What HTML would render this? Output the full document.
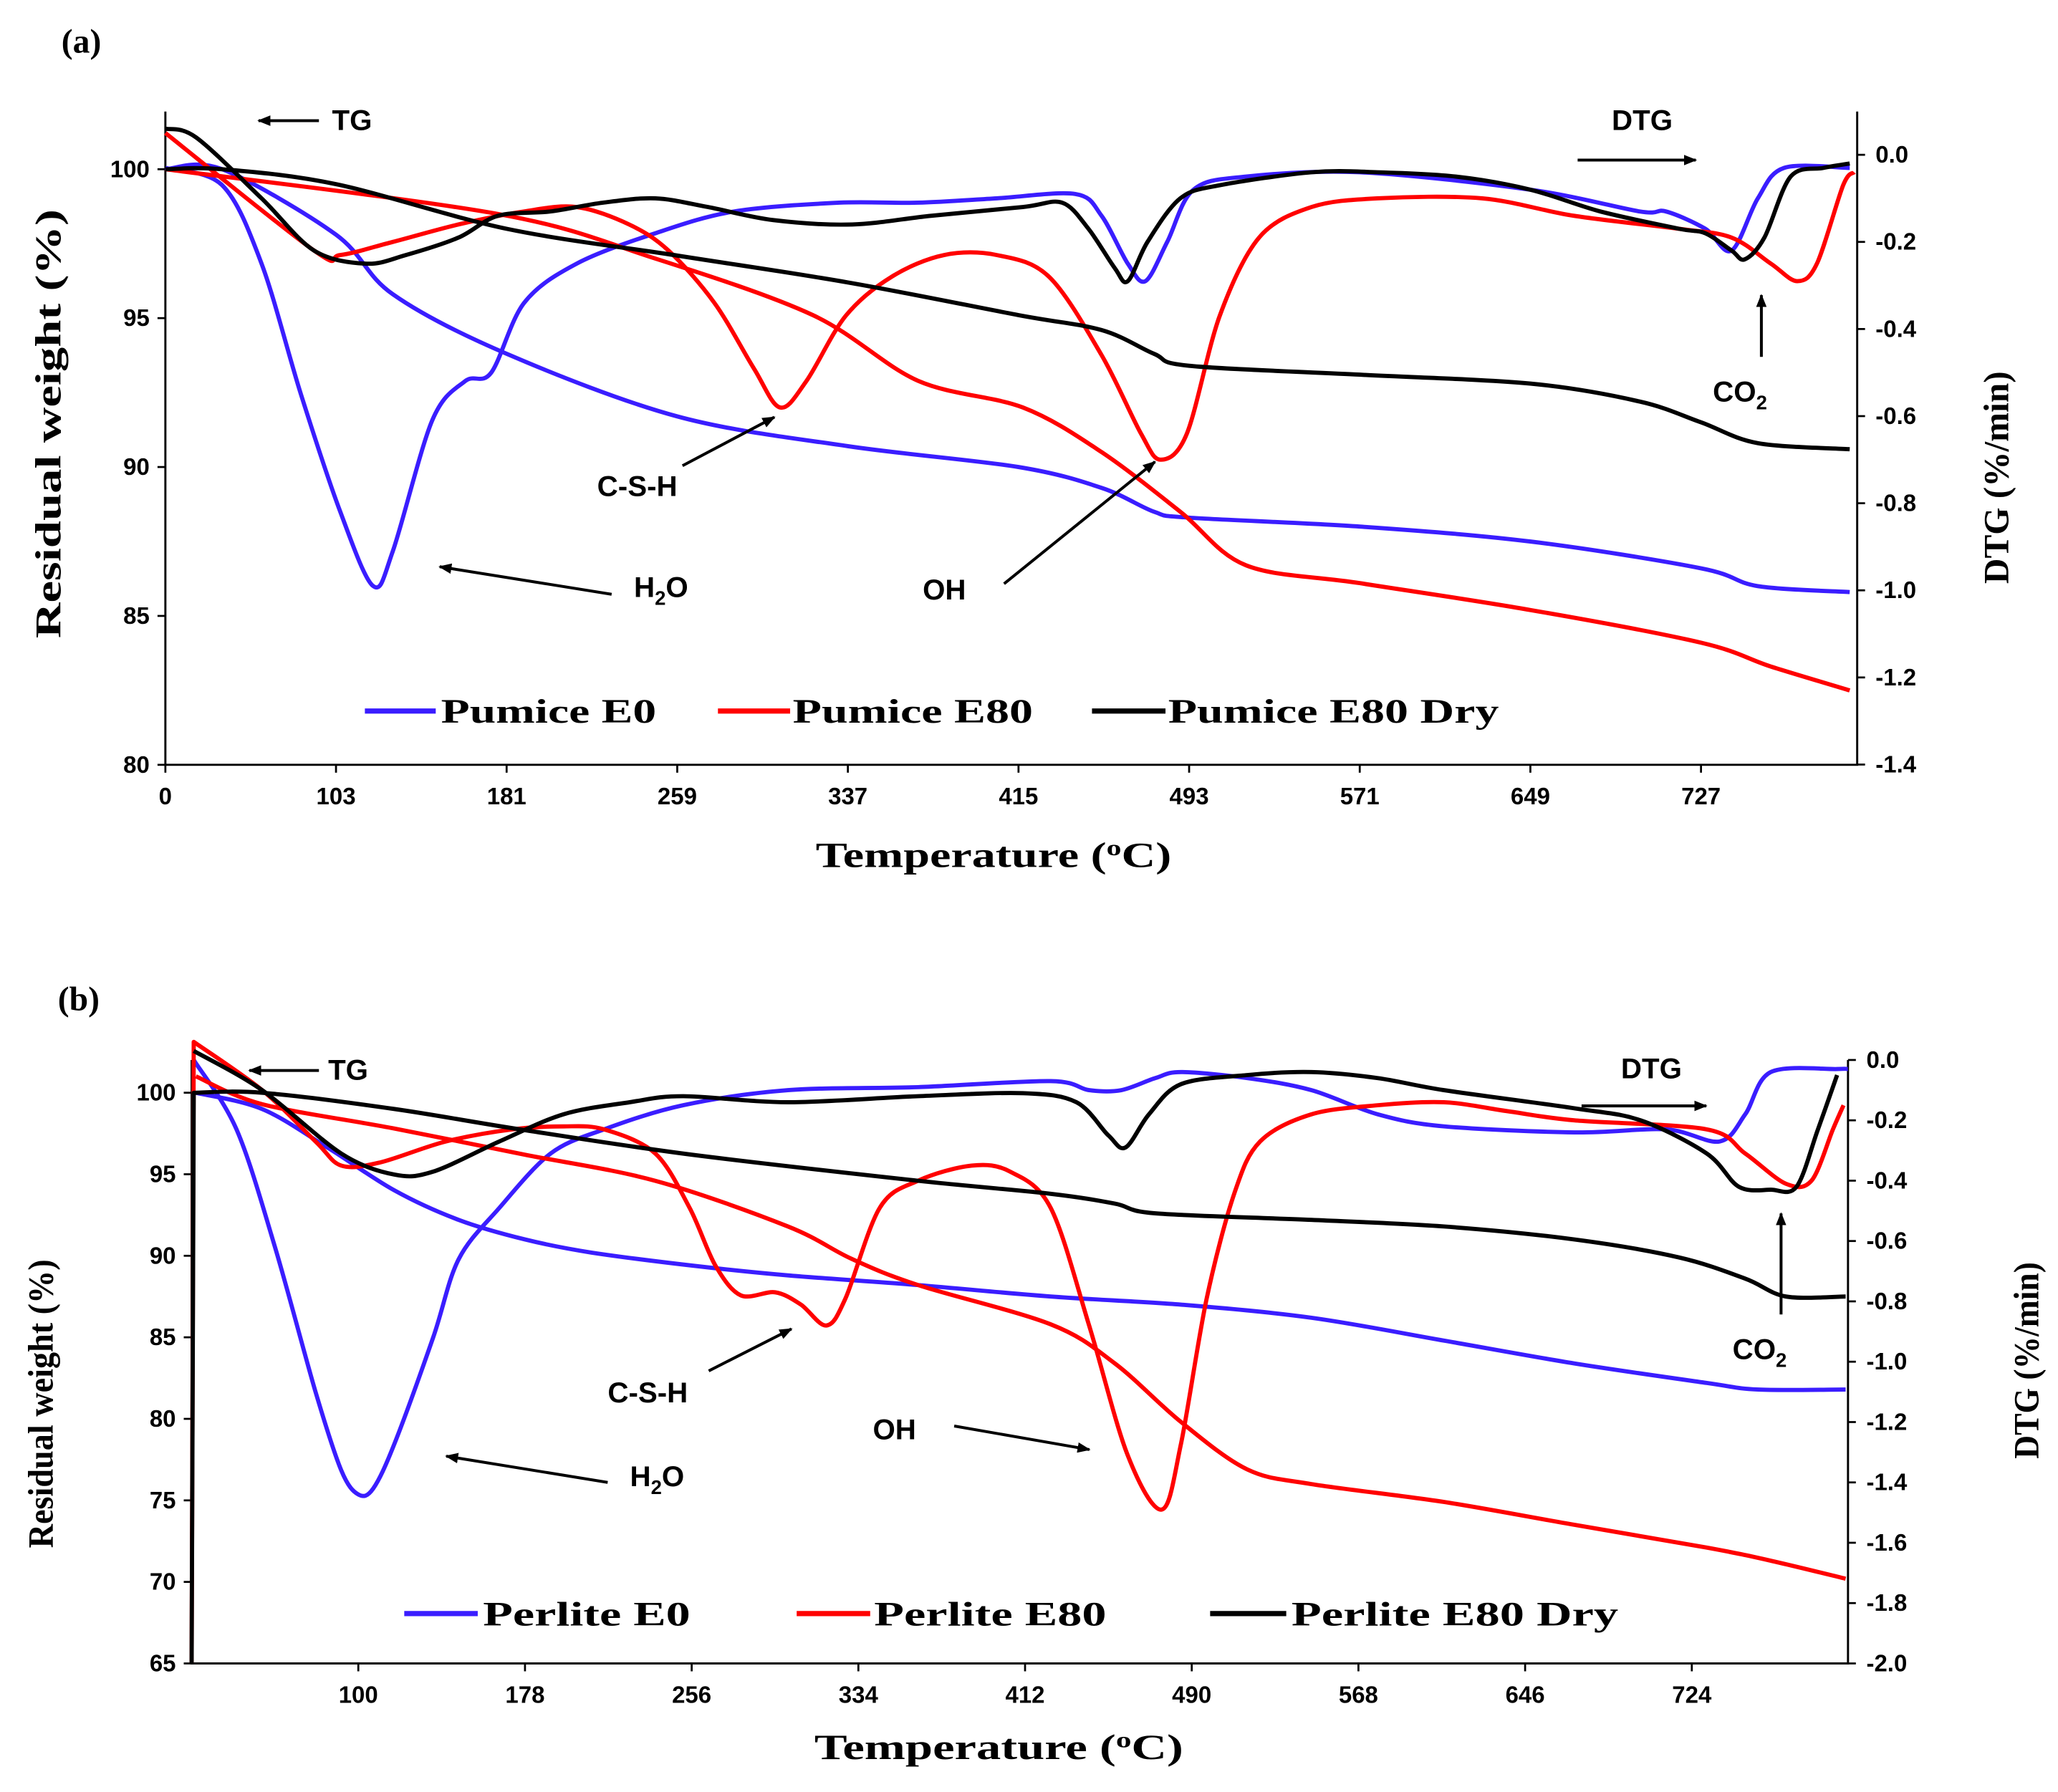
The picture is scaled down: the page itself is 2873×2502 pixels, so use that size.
<!DOCTYPE html>
<html><head><meta charset="utf-8"><style>
html,body{margin:0;padding:0;background:#fff;}
svg{display:block;}
.t{font-family:"Liberation Sans",sans-serif;font-weight:bold;font-size:18px;fill:#000;}
.s{font-family:"Liberation Serif",serif;font-weight:bold;fill:#000;}
.an{font-family:"Liberation Sans",sans-serif;font-weight:bold;font-size:22px;fill:#000;}
</style></head><body>
<svg id="chart" width="2873" height="2502" viewBox="0 0 1568 1366" preserveAspectRatio="none" xmlns="http://www.w3.org/2000/svg">
<defs><marker id="ah" markerWidth="10" markerHeight="8" refX="9" refY="4" orient="auto" markerUnits="userSpaceOnUse"><path d="M0,0 L10,4 L0,8 z" fill="#000"/></marker></defs>
<g id="root"></g>
</svg>
<script>
// ===== Panel (a) data =====
const aXTickLabels = ["0","103","181","259","337","415","493","571","649","727"];
const aXTickValues = [25,103,181,259,337,415,493,571,649,727];
const aLeftTicks = [80,85,90,95,100];
const aRightTicks = [0.0,-0.2,-0.4,-0.6,-0.8,-1.0,-1.2,-1.4];
const aBlueTG_T = [25,51,103,129,181,259,337,415,453,477,493,571,649,727,753,795];
const aBlueTG_V = [100,100,97.8,95.8,93.8,91.7,90.7,90,89.3,88.5,88.3,88,87.5,86.6,86,85.8];
const aBlueDTG_T = [25,51,69,87,105,120,129,147,162,174,189,213,249,285,333,369,405,441,453,465,473,483,495,519,571,649,699,711,729,741,753,765,795];
const aBlueDTG_V = [-0.03,-0.07,-0.25,-0.55,-0.82,-0.99,-0.91,-0.61,-0.52,-0.50,-0.34,-0.25,-0.18,-0.13,-0.11,-0.11,-0.10,-0.09,-0.14,-0.25,-0.29,-0.20,-0.08,-0.05,-0.04,-0.08,-0.13,-0.13,-0.17,-0.22,-0.10,-0.03,-0.03];
const aRedTG_T = [25,177,249,321,369,417,453,489,519,571,649,727,759,795];
const aRedTG_V = [100,98.5,97,95.1,92.9,92,90.5,88.5,86.7,86.1,85.2,84.1,83.3,82.5];
const aRedDTG_T = [25,93,105,129,159,189,213,237,255,276,294,306,318,336,357,381,405,429,453,471,480,492,507,525,549,579,627,669,717,741,759,771,780,792,797];
const aRedDTG_V = [0.05,-0.22,-0.23,-0.20,-0.16,-0.13,-0.12,-0.16,-0.22,-0.34,-0.49,-0.58,-0.52,-0.37,-0.28,-0.23,-0.23,-0.28,-0.46,-0.64,-0.70,-0.64,-0.37,-0.19,-0.12,-0.10,-0.10,-0.14,-0.17,-0.19,-0.25,-0.29,-0.25,-0.07,-0.04];
const aBlackTG_T = [25,51,103,181,259,337,415,453,477,493,571,649,699,727,753,795];
const aBlackTG_V = [100,100,99.5,98,97.1,96.2,95.1,94.6,93.8,93.4,93.1,92.8,92.2,91.5,90.8,90.6];
const aBlackDTG_T = [25,39,69,93,117,135,159,177,201,225,249,273,303,339,375,417,435,447,459,465,474,489,507,549,579,615,649,681,717,729,741,747,756,768,783,795];
const aBlackDTG_V = [0.06,0.04,-0.10,-0.22,-0.25,-0.23,-0.19,-0.14,-0.13,-0.11,-0.10,-0.12,-0.15,-0.16,-0.14,-0.12,-0.11,-0.17,-0.26,-0.29,-0.20,-0.10,-0.07,-0.04,-0.04,-0.05,-0.08,-0.13,-0.17,-0.18,-0.22,-0.24,-0.19,-0.05,-0.03,-0.02];

// ===== Panel (b) data =====
const bXTickLabels = ["100","178","256","334","412","490","568","646","724"];
const bXTickValues = [100,178,256,334,412,490,568,646,724];
const bLeftTicks = [65,70,75,80,85,90,95,100];
const bRightTicks = [0.0,-0.2,-0.4,-0.6,-0.8,-1.0,-1.2,-1.4,-1.6,-1.8,-2.0];
const bBlueTG_T = [24,55,86,117,147,178,209,256,301,362,424,485,546,608,669,731,755,796];
const bBlueTG_V = [100,99.0,96.6,94,92.2,91,90.2,89.4,88.8,88.2,87.5,87,86.2,84.8,83.4,82.2,81.8,81.8];
const bBlueDTG_T = [23,43,61,80,92,100,107,117,135,147,166,190,215,252,301,362,424,442,457,473,485,516,546,577,608,669,712,737,749,761,792,797];
const bBlueDTG_V = [0.0,-0.23,-0.62,-1.10,-1.36,-1.44,-1.42,-1.27,-0.92,-0.66,-0.49,-0.31,-0.23,-0.15,-0.10,-0.09,-0.07,-0.10,-0.10,-0.06,-0.04,-0.06,-0.10,-0.18,-0.22,-0.24,-0.23,-0.27,-0.18,-0.04,-0.03,-0.03];
const bRedTG_T = [24,55,117,178,239,301,331,362,424,454,485,516,546,608,669,731,761,796];
const bRedTG_V = [101,99.3,97.8,96.2,94.6,91.8,89.8,88.2,85.8,83.4,79.8,76.9,76,74.9,73.5,72.1,71.3,70.2];
const bRedDTG_T = [22,23,55,80,92,110,141,172,196,215,239,255,267,279,295,307,319,328,344,362,387,405,424,442,460,476,485,497,510,522,546,577,608,638,669,731,749,768,780,790,795];
const bRedDTG_V = [-2.0,0.06,-0.10,-0.27,-0.35,-0.34,-0.27,-0.23,-0.22,-0.23,-0.31,-0.49,-0.68,-0.78,-0.77,-0.81,-0.88,-0.79,-0.49,-0.40,-0.35,-0.37,-0.49,-0.88,-1.31,-1.49,-1.27,-0.79,-0.44,-0.27,-0.18,-0.15,-0.14,-0.17,-0.20,-0.23,-0.31,-0.41,-0.40,-0.23,-0.15];
const bBlackTG_T = [22,23,55,117,178,256,362,424,454,473,546,608,669,718,749,768,796];
const bBlackTG_V = [65,100,100,99.0,97.7,96.2,94.6,93.8,93.2,92.6,92.2,91.8,91,89.9,88.6,87.5,87.5];
const bBlackDTG_T = [23,55,92,117,135,166,196,227,252,301,362,411,436,451,459,470,485,516,546,577,608,669,700,731,746,761,773,783,792];
const bBlackDTG_V = [0.03,-0.10,-0.31,-0.38,-0.37,-0.27,-0.18,-0.14,-0.12,-0.14,-0.12,-0.11,-0.14,-0.25,-0.29,-0.18,-0.08,-0.05,-0.04,-0.06,-0.10,-0.16,-0.20,-0.31,-0.42,-0.43,-0.42,-0.23,-0.05];

const NS="http://www.w3.org/2000/svg";
const root=document.getElementById('root');
function mk(tag,attrs,parent){const e=document.createElementNS(NS,tag);for(const k in attrs)e.setAttribute(k,attrs[k]);(parent||root).appendChild(e);return e;}
function txt(x,y,s,cls,extra,parent){const e=mk('text',Object.assign({x:x,y:y,class:cls},extra||{}),parent);e.innerHTML=s;return e;}

function smooth(pts){
  let d='M'+pts[0][0].toFixed(1)+','+pts[0][1].toFixed(1);
  for(let i=0;i<pts.length-1;i++){
    let p0=pts[Math.max(0,i-1)];const p1=pts[i],p2=pts[i+1];let p3=pts[Math.min(pts.length-1,i+2)];
    if(Math.abs(p2[0]-p1[0])<3){d+=' L'+p2[0].toFixed(1)+','+p2[1].toFixed(1);continue;}
    if(Math.abs(p1[0]-p0[0])<3)p0=p1;
    if(Math.abs(p3[0]-p2[0])<3)p3=p2;
    const t=0.16;
    const c1=[p1[0]+(p2[0]-p0[0])*t,p1[1]+(p2[1]-p0[1])*t];
    const c2=[p2[0]-(p3[0]-p1[0])*t,p2[1]-(p3[1]-p1[1])*t];
    d+=' C'+c1.map(v=>v.toFixed(1)).join(',')+' '+c2.map(v=>v.toFixed(1)).join(',')+' '+p2[0].toFixed(1)+','+p2[1].toFixed(1);
  }
  return d;
}

function panel(P){
  const g=mk('g',{});
  
  
  const X=t=>P.x0+(t-P.t0)*P.kx;
  const YL=v=>P.yb-(v-P.lmin)*P.ky;
  const YR=d=>P.ryt+(0-d)*P.kr;
  const ax=mk('path',{d:`M${P.x0},${P.ytop} V${P.yb} H${P.x1} V${P.ytop}`,stroke:'#000','stroke-width':1.6,fill:'none'},g);
  
  
  P.xtv.forEach((v,i)=>{const x=X(v);mk('line',{x1:x,y1:P.yb,x2:x,y2:P.yb+6,stroke:'#000','stroke-width':1.5},g);
    const t=txt(x,P.yb+30,P.xtl[i],'t',{'text-anchor':'middle'},g);
    
    });
  P.lt.forEach(v=>{const y=YL(v);mk('line',{x1:P.x0-6,y1:y,x2:P.x0,y2:y,stroke:'#000','stroke-width':1.5},g);
    const t=txt(P.x0-12,y+6,String(v),'t',{'text-anchor':'end'},g);
    
    });
  P.rt.forEach(v=>{const y=YR(v);mk('line',{x1:P.x1,y1:y,x2:P.x1+6,y2:y,stroke:'#000','stroke-width':1.5},g);
    const t=txt(P.x1+14,y+6,v.toFixed(1),'t',{},g);
    
    });
  P.series.forEach(s=>{
    const pts=s.T.map((t,i)=>[X(t),s.r?YR(s.V[i]):YL(s.V[i])]);
    const p=mk('path',{d:smooth(pts),stroke:s.c,'stroke-width':3.2,fill:'none','stroke-linejoin':'round'},g);
    
    
  });
}

panel({name:'panel-a',x0:126,x1:1415,t0:25,kx:130/78,ytop:85,yb:583,lmin:80,ky:22.7,ryt:118,kr:332,
  xtv:aXTickValues,xtl:aXTickLabels,lt:aLeftTicks,rt:aRightTicks,
  series:[{T:aBlueTG_T,V:aBlueTG_V,c:'#3a1dff',n:'pumice-e0-tg'},{T:aBlueDTG_T,V:aBlueDTG_V,c:'#3a1dff',r:1,n:'pumice-e0-dtg'},
  {T:aRedTG_T,V:aRedTG_V,c:'#ff0000',n:'pumice-e80-tg'},{T:aRedDTG_T,V:aRedDTG_V,c:'#ff0000',r:1,n:'pumice-e80-dtg'},
  {T:aBlackTG_T,V:aBlackTG_V,c:'#000',n:'pumice-e80-dry-tg'},{T:aBlackDTG_T,V:aBlackDTG_V,c:'#000',r:1,n:'pumice-e80-dry-dtg'}]});
panel({name:'panel-b',x0:146,x1:1408,t0:22,kx:127/78,ytop:808,yb:1268,lmin:65,ky:12.43,ryt:808,kr:230,
  xtv:bXTickValues,xtl:bXTickLabels,lt:bLeftTicks,rt:bRightTicks,
  series:[{T:bBlueTG_T,V:bBlueTG_V,c:'#3a1dff',n:'perlite-e0-tg'},{T:bBlueDTG_T,V:bBlueDTG_V,c:'#3a1dff',r:1,n:'perlite-e0-dtg'},
  {T:bRedTG_T,V:bRedTG_V,c:'#ff0000',n:'perlite-e80-tg'},{T:bRedDTG_T,V:bRedDTG_V,c:'#ff0000',r:1,n:'perlite-e80-dtg'},
  {T:bBlackTG_T,V:bBlackTG_V,c:'#000',n:'perlite-e80-dry-tg'},{T:bBlackDTG_T,V:bBlackDTG_V,c:'#000',r:1,n:'perlite-e80-dry-dtg'}]});

function label(x,y,s,cls,size,name,len,rot){const a={'text-anchor':'middle','font-size':size};if(len){a.textLength=len;a.lengthAdjust='spacingAndGlyphs';}if(rot)a.transform=`rotate(-90 ${x} ${y})`;const t=txt(x,y,s,cls,a);
  
  return t;}
label(62,40,'(a)','s',26,'panel-a-label');
label(60,770,'(b)','s',26,'panel-b-label');
label(757,661,'Temperature (<tspan font-size="17" dy="-9">o</tspan><tspan dy="9">C)</tspan>','s',27,'x-axis-title-a',271);
label(761,1341,'Temperature (<tspan font-size="17" dy="-9">o</tspan><tspan dy="9">C)</tspan>','s',27,'x-axis-title-b',281);
label(46,323,'Residual weight (%)','s',28,'y-axis-title-a',327,1);
label(40,1070,'Residual weight (%)','s',27,'y-axis-title-b',220,1);
label(1530,364,'DTG (%/min)','s',27,'y2-axis-title-a',162,1);
label(1553,1037,'DTG (%/min)','s',27,'y2-axis-title-b',150,1);

function legend(x1,x2,tx,y,c,s,name,len){const l=mk('line',{x1:x1,y1:y,x2:x2,y2:y,stroke:c,'stroke-width':4});
  
  
  const t=txt(tx,y+9,s,'s',{'font-size':26,textLength:len,lengthAdjust:'spacingAndGlyphs'});
  
  }
legend(278,332,336,542,'#3a1dff','Pumice E0','legend-pumice-e0',164);
legend(547,602,604,542,'#ff0000','Pumice E80','legend-pumice-e80',183);
legend(832,888,890,542,'#000','Pumice E80 Dry','legend-pumice-e80-dry',252);
legend(308,364,368,1230,'#3a1dff','Perlite E0','legend-perlite-e0',158);
legend(607,663,666,1230,'#ff0000','Perlite E80','legend-perlite-e80',177);
legend(922,980,984,1230,'#000','Perlite E80 Dry','legend-perlite-e80-dry',249);

function arrow(x1,y1,x2,y2,name){const l=mk('line',{x1:x1,y1:y1,x2:x2,y2:y2,stroke:'#000','stroke-width':2.2,'marker-end':'url(#ah)'});
  
  }
function note(x,y,s,name){const t=txt(x,y,s,'an');
  
  }
note(253,99,'TG','tg-label-a'); arrow(243,92,197,92,'tg-arrow-a');
note(1228,99,'DTG','dtg-label-a'); arrow(1202,122,1292,122,'dtg-arrow-a');
note(1305,306,'CO<tspan font-size="15" dy="6">2</tspan>','co2-label-a'); arrow(1342,272,1342,225,'co2-arrow-a');
note(483,455,'H<tspan font-size="15" dy="6">2</tspan><tspan dy="-6">O</tspan>','h2o-label-a'); arrow(466,453,335,432,'h2o-arrow-a');
note(703,457,'OH','oh-label-a'); arrow(765,445,880,352,'oh-arrow-a');
note(455,378,'C-S-H','csh-label-a'); arrow(520,355,590,318,'csh-arrow-a');
note(250,823,'TG','tg-label-b'); arrow(243,816,190,816,'tg-arrow-b');
note(1235,822,'DTG','dtg-label-b'); arrow(1205,843,1300,843,'dtg-arrow-b');
note(1320,1036,'CO<tspan font-size="15" dy="6">2</tspan>','co2-label-b'); arrow(1357,1002,1357,925,'co2-arrow-b');
note(463,1069,'C-S-H','csh-label-b'); arrow(540,1045,603,1013,'csh-arrow-b');
note(665,1097,'OH','oh-label-b'); arrow(727,1087,830,1105,'oh-arrow-b');
note(480,1133,'H<tspan font-size="15" dy="6">2</tspan><tspan dy="-6">O</tspan>','h2o-label-b'); arrow(463,1130,340,1110,'h2o-arrow-b');
</script>
</body></html>
